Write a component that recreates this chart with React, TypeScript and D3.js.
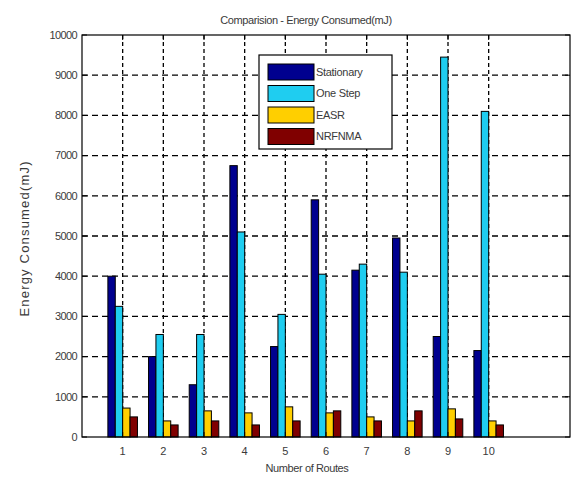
import React from "react";
import * as d3 from "d3";

const routes = ["1", "2", "3", "4", "5", "6", "7", "8", "9", "10"];
const seriesNames = ["Stationary", "One Step", "EASR", "NRFNMA"];
const stationary = [4000, 2000, 1300, 6750, 2250, 5900, 4150, 4950, 2500, 2150];
const oneStep = [3250, 2550, 2550, 5100, 3050, 4050, 4300, 4100, 9450, 8100];
const easr = [720, 400, 650, 600, 750, 600, 500, 400, 700, 400];
const nrfnma = [500, 300, 400, 300, 400, 650, 400, 650, 450, 300];
const seriesColors = ["#00008F", "#1FCDF0", "#FFCF00", "#800000"];
const yTicks = [0, 1000, 2000, 3000, 4000, 5000, 6000, 7000, 8000, 9000, 10000];

const W = 571;
const H = 477;
const M = { left: 82, right: 570, top: 35, bottom: 437 };

export default function App() {
  const series = [stationary, oneStep, easr, nrfnma];
  const x = d3.scaleLinear().domain([0, 12]).range([M.left, M.right]);
  const y = d3.scaleLinear().domain([0, 10000]).range([M.bottom, M.top]);
  const groupWidth = Math.min(0.8, 4 / (4 + 1.5));
  const inner = d3
    .scaleBand<number>()
    .domain([0, 1, 2, 3])
    .range([-groupWidth / 2, groupWidth / 2])
    .padding(0);

  const textColor = "#3a3a3a";
  const font = "'Liberation Sans', Arial, sans-serif";

  return (
    <svg
      width={W}
      height={H}
      style={{ position: "absolute", left: 0, top: 0, background: "#fff" }}
      fontFamily={font}
    >
      <rect x={0} y={0} width={W} height={H} fill="#fff" />
      {/* grid */}
      {yTicks.slice(1, -1).map((t) => (
        <line
          key={"gy" + t}
          x1={M.left}
          x2={M.right}
          y1={y(t)}
          y2={y(t)}
          stroke="#000"
          strokeWidth={1.3}
          strokeDasharray="6,4"
        />
      ))}
      {routes.map((r, i) => (
        <line
          key={"gx" + r}
          x1={x(i + 1)}
          x2={x(i + 1)}
          y1={M.top}
          y2={M.bottom}
          stroke="#000"
          strokeWidth={1.3}
          strokeDasharray="4,3"
        />
      ))}
      {/* bars */}
      {series.map((vals, s) =>
        vals.map((v, i) => {
          const x0 = x(i + 1 + (inner(s) as number));
          const x1 = x(i + 1 + (inner(s) as number) + inner.bandwidth());
          return (
            <rect
              key={s + "-" + i}
              x={x0}
              y={y(v)}
              width={x1 - x0}
              height={y(0) - y(v)}
              fill={seriesColors[s]}
              stroke="#000"
              strokeWidth={1}
            />
          );
        })
      )}
      {/* frame */}
      <rect
        x={M.left}
        y={M.top}
        width={M.right - M.left}
        height={M.bottom - M.top}
        fill="none"
        stroke="#000"
        strokeWidth={1.2}
      />
      {/* y ticks */}
      {yTicks.map((t) => (
        <g key={"yt" + t}>
          <line x1={M.left} x2={M.left + 5} y1={y(t)} y2={y(t)} stroke="#000" />
          <line x1={M.right} x2={M.right - 5} y1={y(t)} y2={y(t)} stroke="#000" />
          <text
            x={M.left - 5}
            y={y(t)}
            dy="0.35em"
            textAnchor="end"
            fontSize={11}
            fill={textColor}
            letterSpacing={-0.6}
          >
            {t}
          </text>
        </g>
      ))}
      {/* x ticks */}
      {routes.map((r, i) => (
        <g key={"xt" + r}>
          <line x1={x(i + 1)} x2={x(i + 1)} y1={M.bottom} y2={M.bottom - 5} stroke="#000" />
          <line x1={x(i + 1)} x2={x(i + 1)} y1={M.top} y2={M.top + 5} stroke="#000" />
          <text
            x={x(i + 1)}
            y={M.bottom + 18}
            textAnchor="middle"
            fontSize={11}
            fill={textColor}
          >
            {r}
          </text>
        </g>
      ))}
      {/* title and labels */}
      <text x={306} y={24} textAnchor="middle" fontSize={11} fill={textColor} letterSpacing={-0.4}>
        Comparision - Energy Consumed(mJ)
      </text>
      <text x={307} y={472} textAnchor="middle" fontSize={11} fill={textColor} letterSpacing={-0.4}>
        Number of Routes
      </text>
      <text
        transform="translate(29, 239) rotate(-90)"
        textAnchor="middle"
        fontSize={13}
        fill={textColor}
        textLength={155}
        lengthAdjust="spacing"
      >
        Energy Consumed(mJ)
      </text>
      {/* legend */}
      <g>
        <rect x={259} y={55} width={133} height={94} fill="#fff" stroke="#000" strokeWidth={1.2} />
        {seriesNames.map((n, i) => {
          const cy = 72 + i * 21.5;
          return (
            <g key={n}>
              <rect
                x={268}
                y={cy - 8}
                width={46}
                height={16}
                fill={seriesColors[i]}
                stroke="#000"
                strokeWidth={1}
              />
              <text x={316} y={cy} dy="0.35em" fontSize={11} fill={textColor} letterSpacing={-0.3}>
                {n}
              </text>
            </g>
          );
        })}
      </g>
    </svg>
  );
}
